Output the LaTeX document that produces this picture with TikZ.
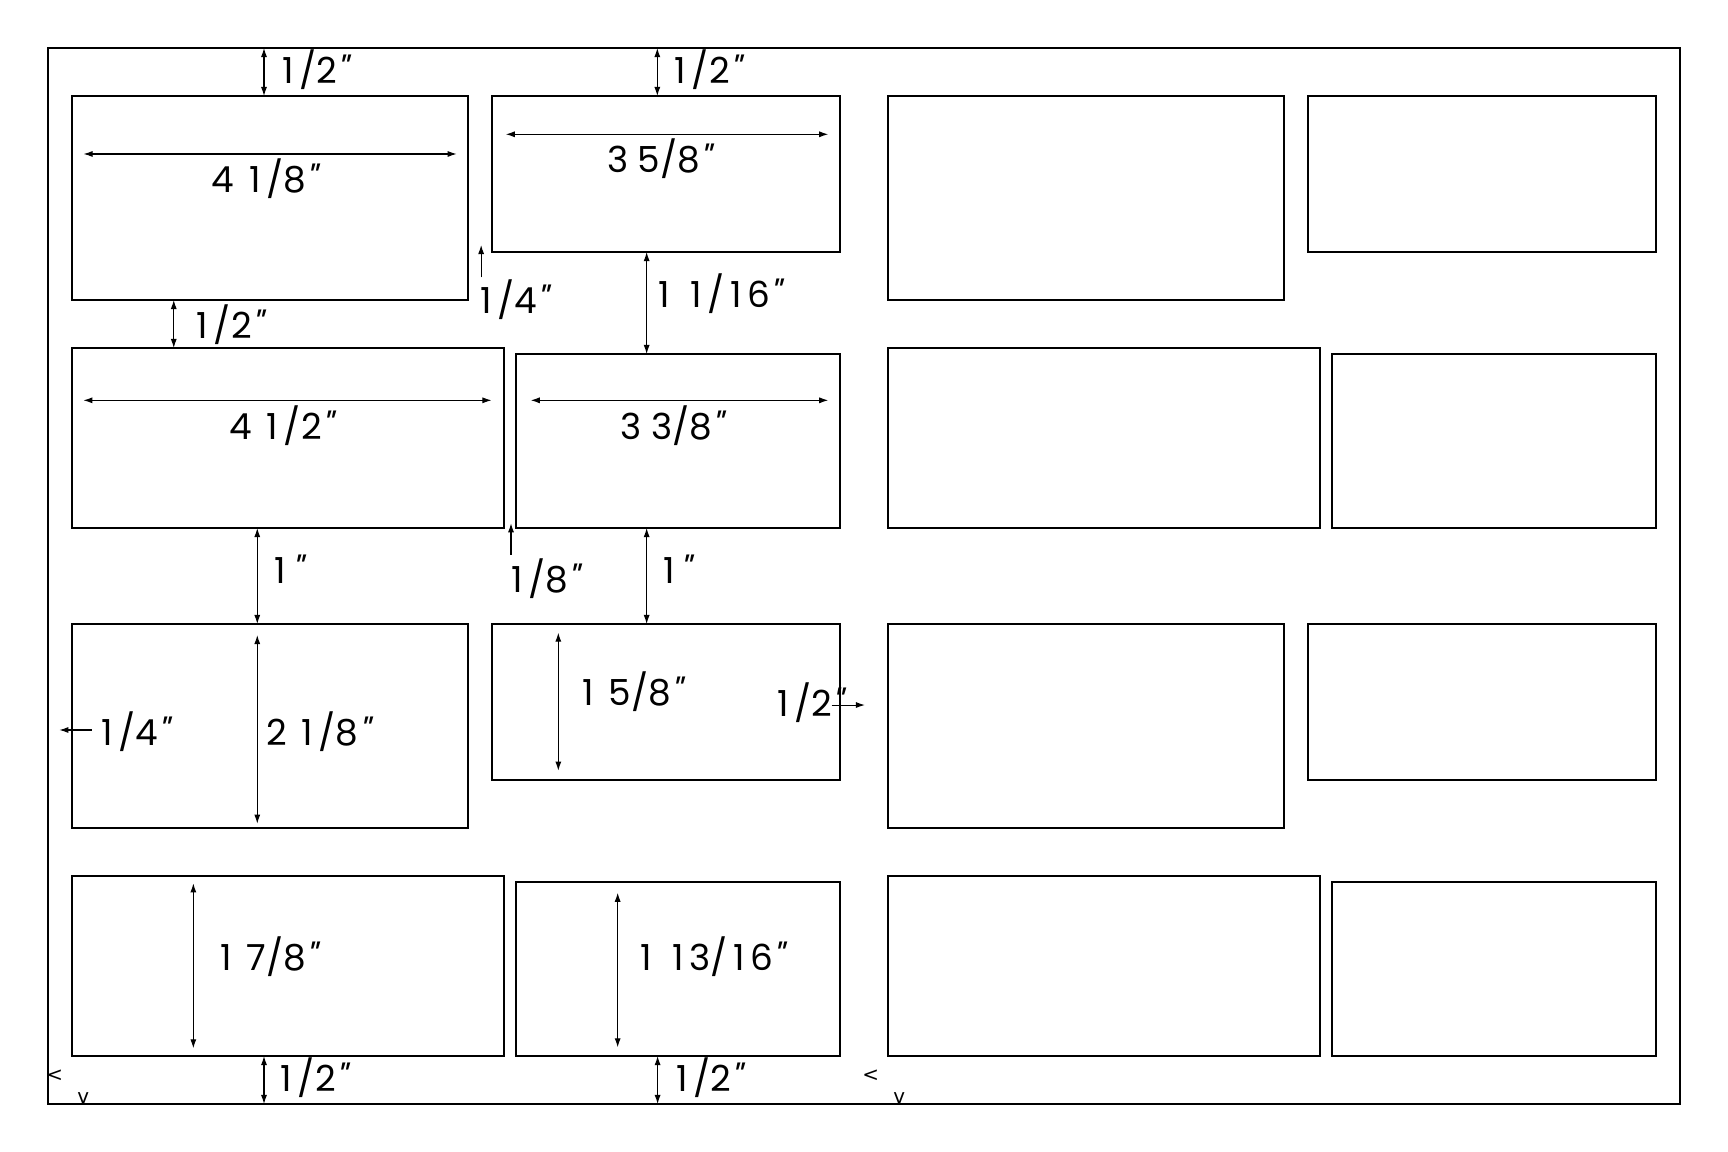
\documentclass[tikz,border=0pt]{standalone}
\usepackage{fontspec}
\setmainfont{Poppins}
\newfontfamily\quotefont{Poppins}[FakeSlant=0.25]
\newfontfamily\markfont{DejaVu Sans}
\usetikzlibrary{arrows.meta,positioning,calc}

\newcommand{\inch}{\kern-0.04em{\quotefont"}}
\newcommand{\one}{\makebox[\fontcharwd\font`\0][c]{1}}

\tikzset{
  sheet/.style={draw, line width=0.9pt, inner sep=0pt, outer sep=0pt, anchor=north west},
  wideA/.style={sheet, minimum width=4.125in, minimum height=2.125in},
  wideB/.style={sheet, minimum width=3.625in, minimum height=1.625in},
  longA/.style={sheet, minimum width=4.5in, minimum height=1.875in},
  longB/.style={sheet, minimum width=3.375in, minimum height=1.8125in},
  dim/.style={line width=0.8pt, {Latex[length=2.4mm,width=1.6mm]}-{Latex[length=2.4mm,width=1.6mm]}},
  ptr/.style={line width=0.8pt, -{Latex[length=2.4mm,width=1.6mm]}},
  size/.style={font=\fontsize{27}{30}\selectfont, inner sep=0pt, anchor=base},
  corner/.style={font=\markfont\fontsize{15}{16}\selectfont, inner sep=0pt}
}

\begin{document}
\begin{tikzpicture}[x=1in,y=-1in]
        \useasboundingbox (-0.5,-0.5) rectangle (17.5,11.5);

        % Sheet
        \node[sheet, minimum width=17in, minimum height=11in] (sheet) at (0,0) {};

        % Labels, left and right half
        \foreach \a/\b/\dx in {A/B/0, C/D/8.5} {
            \node[wideA] (\a1) at (0.25+\dx,0.5) {};
            \node[wideB] (\b1) at (4.625+\dx,0.5) {};
            \node[longA] (\a2) at (0.25+\dx,3.125) {};
            \node[longB] (\b2) at (4.875+\dx,3.1875) {};
            \node[wideA] (\a3) at (0.25+\dx,6) {};
            \node[wideB] (\b3) at (4.625+\dx,6) {};
            \node[longA] (\a4) at (0.25+\dx,8.625) {};
            \node[longB] (\b4) at (4.875+\dx,8.6875) {};
            \node[corner] (lt\a) at (0.07+\dx,10.70) {<};
            \node[corner] (dn\a) at (0.368+\dx,10.94) {v};
        }

        % Margins
        \draw[dim] (2.25,0 |- sheet.north) -- (2.25,0 |- A1.north);
        \draw[dim] (6.347,0 |- sheet.north) -- (6.347,0 |- B1.north);
        \draw[dim] (2.25,0 |- A4.south) -- (2.25,0 |- sheet.south);
        \draw[dim] (6.35,0 |- B4.south) -- (6.35,0 |- sheet.south);
        \draw[ptr] (0.455,7.104) -- (0.118,7.104);
        \draw[ptr] (8.163,6.844) -- (8.51,6.844);

        % Gaps
        \draw[dim] (1.31,0 |- A1.south) -- (1.31,0 |- A2.north);
        \draw[dim] (6.236,0 |- B1.south) -- (6.236,0 |- B2.north);
        \draw[dim] (2.18,0 |- A2.south) -- (2.18,0 |- A3.north);
        \draw[dim] (6.236,0 |- B2.south) -- (6.236,0 |- B3.north);
        \draw[ptr] (4.512,2.389) -- (4.512,2.052);
        \draw[ptr] (4.823,5.28) -- (4.823,4.951);

        % Sizes
        \draw[dim] (0.37,1.104) -- (4.257,1.104);
        \draw[dim] (4.768,0.899) -- (8.128,0.899);
        \draw[dim] (0.368,3.67) -- (4.62,3.67);
        \draw[dim] (5.028,3.67) -- (8.128,3.67);
        \draw[dim] (2.18,6.115) -- (2.18,8.08);
        \draw[dim] (5.316,6.09) -- (5.316,7.528);
        \draw[dim] (1.514,8.701) -- (1.514,10.42);
        \draw[dim] (5.934,8.799) -- (5.934,10.41);

        % Texts
        \node[size] (tA) at (2.743,0.368) {\one/2\inch};
        \node[size] (tB) at (6.834,0.368) {\one/2\inch};
        \node[size] (wA1) at (2.244,1.507) {4 \one/8\inch};
        \node[size] (wB1) at (6.354,1.299) {3 5/8\inch};
        \node[size] (gAB1) at (4.819,2.77) {\one/4\inch};
        \node[size] (gA12) at (1.855,3.024) {\one/2\inch};
        \node[size] (gB12) at (6.96,2.705) {\one{} \one/\one6\inch};
        \node[size] (wA2) at (2.417,4.073) {4 \one/2\inch};
        \node[size] (wB2) at (6.49,4.073) {3 3/8\inch};
        \node[size] (gA23) at (2.466,5.576) {\one\inch};
        \node[size] (gAB2) at (5.138,5.674) {\one/8\inch};
        \node[size] (gB23) at (6.514,5.576) {\one\inch};
        \node[size] (lA) at (0.872,7.27) {\one/4\inch};
        \node[size] (hA3) at (2.80,7.27) {2 \one/8\inch};
        \node[size] (hB3) at (6.045,6.844) {\one{} 5/8\inch};
        \node[size] (rB) at (7.90,6.965) {\one/2\inch};
        \node[size] (hA4) at (2.26,9.61) {\one{} 7/8\inch};
        \node[size] (hB4) at (6.88,9.61) {\one{} \one3/\one6\inch};
        \node[size] (bA) at (2.73,10.87) {\one/2\inch};
        \node[size] (bB) at (6.85,10.87) {\one/2\inch};
    \end{tikzpicture}
\end{document}
